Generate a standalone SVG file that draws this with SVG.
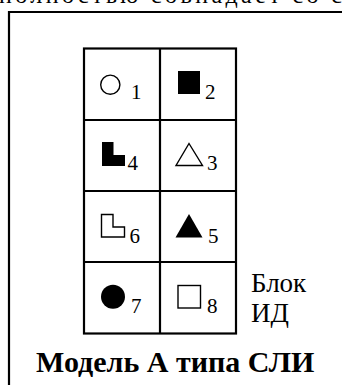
<svg xmlns="http://www.w3.org/2000/svg" width="342" height="385" viewBox="0 0 342 385">
<style>
.t{font-family:"Liberation Serif","Times New Roman",serif;fill:#000}
.d{font-size:21px}
.ln{stroke:#000;stroke-width:2.2;fill:none}
.o{stroke:#000;stroke-width:1.4;fill:none}
.f{fill:#000}
</style>
<rect width="342" height="385" fill="#fff"/>
<text class="t" x="-1" y="3" font-size="24" textLength="343">полностью совпадает со с</text>
<g id="frame">
<path class="ln" d="M9,385 V12 H342"/>
</g>
<g id="grid">
<rect class="ln" x="84" y="48.5" width="152" height="285"/>
<path class="ln" d="M160,48.5 V333.5 M84,120 H236 M84,191 H236 M84,262 H236"/>
</g>
<g id="cell1">
<circle class="o" cx="110.3" cy="84.7" r="9.6"/>
<text class="t d" x="131" y="99">1</text>
</g>
<g id="cell2">
<rect class="f" x="178" y="71" width="22" height="23"/>
<text class="t d" x="205" y="99">2</text>
</g>
<g id="cell4">
<polygon class="f" points="102,142 113.5,142 113.5,155 125,155 125,166 102,166"/>
<text class="t d" x="127.5" y="170">4</text>
</g>
<g id="cell3">
<polygon class="o" points="189,143.5 176,165.5 202.5,165.5"/>
<text class="t d" x="207" y="170">3</text>
</g>
<g id="cell6">
<polygon class="o" points="101.5,214.5 113,214.5 113,227 124.5,227 124.5,237 101.5,237"/>
<text class="t d" x="129.5" y="243">6</text>
</g>
<g id="cell5">
<polygon class="f" points="189,214 175.5,237.5 202.5,237.5"/>
<text class="t d" x="208" y="243">5</text>
</g>
<g id="cell7">
<circle class="f" cx="113" cy="296.7" r="12"/>
<text class="t d" x="131" y="313">7</text>
</g>
<g id="cell8">
<rect class="o" x="178" y="285.5" width="22.5" height="22.5"/>
<text class="t d" x="207" y="313">8</text>
</g>
<g id="label">
<text class="t" x="251" y="292" font-size="27">Блок</text>
<text class="t" x="251" y="322" font-size="27">ИД</text>
</g>
<g id="title">
<text class="t" x="36" y="372" font-size="30" font-weight="bold">Модель А типа СЛИ</text>
</g>
</svg>
